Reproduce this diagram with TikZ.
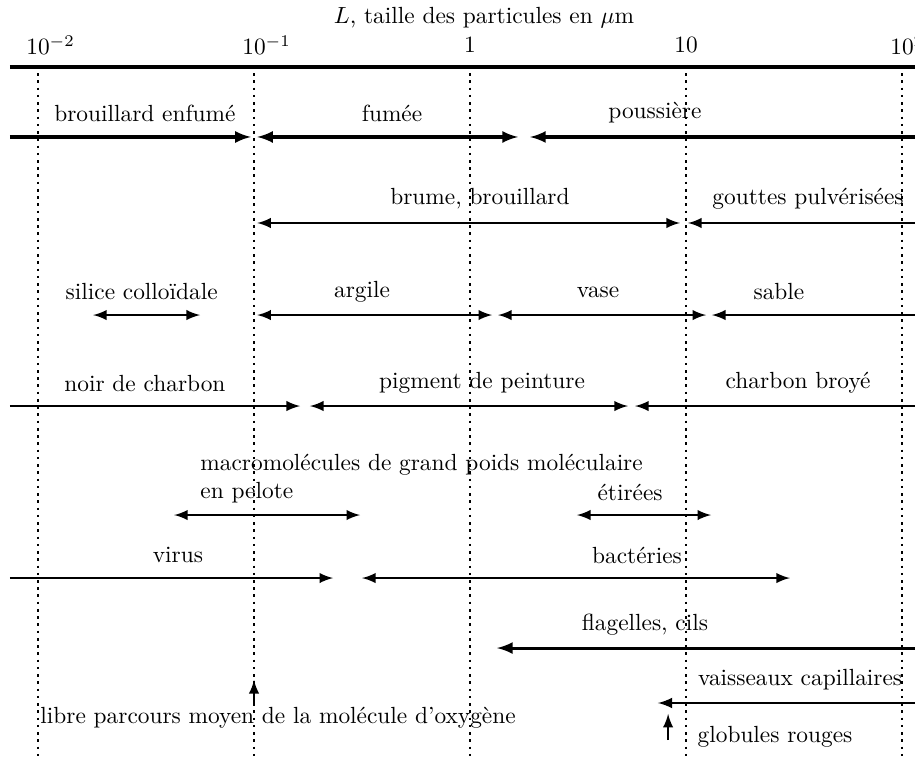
\documentclass[tikz,border=0pt]{standalone}
\usepackage{fontspec}
\usepackage{amsmath}

\begin{document}
\begin{tikzpicture}[x=3.25cm,y=1cm,
		axe/.style={line width=1.5pt},
		repere/.style={dotted,line width=1.1pt},
		fleche/.style={line width=1pt},
		lab/.style={inner sep=0pt}]
	\useasboundingbox (-2.176,0) rectangle (2.06,-11.405);
	\clip (-2.176,0) rectangle (2.06,-11.405);
	\node (titre) at (0.065,-0.27) {$L$, taille des particules en $\mu$m};
	\coordinate (ax-a) at (-2.13,-1.008);
	\coordinate (ax-b) at (2.3,-1.008);
	\draw[axe] (ax-a) -- (ax-b);
	\foreach \X/\T in {-2/10\rlap{$^{-2}$},-1/10\rlap{$^{-1}$},0/1,1/10,2/10\rlap{$^{2}$}}
	{\node (d\X) at (\X,-0.677) {$\T$};
		\coordinate (h\X) at (\X,-1.1);
		\coordinate (b\X) at (\X,-11.405);
		\draw[repere] (h\X) -- (b\X);}
	\foreach \n/\xa/\xb/\y/\tip/\w in {
		bro/-2.13/-1.015/-2.061/-latex/1.3pt,
		fum/-0.985/0.222/-2.061/latex-latex/1.3pt,
		pou/0.278/2.3/-2.061/latex-/1.3pt,
		bru/-0.985/0.972/-3.355/latex-latex/1pt,
		gou/1.009/2.3/-3.355/latex-/1pt,
		sil/-1.745/-1.25/-4.74/latex-latex/1pt,
		arg/-0.985/0.102/-4.74/latex-latex/1pt,
		vas/0.13/1.093/-4.74/latex-latex/1pt,
		sab/1.12/2.3/-4.74/latex-/1pt,
		noi/-2.13/-0.787/-6.109/-latex/1pt,
		pig/-0.741/0.731/-6.109/latex-latex/1pt,
		cha/0.764/2.3/-6.109/latex-/1pt,
		pel/-1.37/-0.509/-7.749/latex-latex/1pt,
		eti/0.495/1.116/-7.749/latex-latex/1pt,
		vir/-2.13/-0.634/-8.697/-latex/1pt,
		bac/-0.5/1.481/-8.697/latex-latex/1pt,
		fla/0.125/2.3/-9.75/latex-/1.3pt,
		vai/0.87/2.3/-10.577/latex-/1.1pt}
	{\coordinate (\n-a) at (\xa,\y);
		\coordinate (\n-b) at (\xb,\y);
		\draw[fleche,line width=\w,\tip] (\n-a) -- (\n-b);}
	\foreach \n/\x/\y/\txt in {
		lbro/-1.505/-1.70/brouillard enfumé,
		lfum/-0.361/-1.70/fumée,
		lpou/0.856/-1.70/poussière,
		lbru/0.046/-2.994/{brume, brouillard},
		lgou/1.565/-2.994/gouttes pulvérisées,
		lsil/-1.52/-4.393/silice colloïdale,
		larg/-0.5/-4.393/argile,
		lvas/0.593/-4.393/vase,
		lsab/1.43/-4.393/sable,
		lnoi/-1.505/-5.763/noir de charbon,
		lpig/0.056/-5.763/pigment de peinture,
		lcha/1.519/-5.763/charbon broyé,
		leti/0.741/-7.403/étirées,
		lvir/-1.352/-8.351/virus,
		lbac/0.773/-8.351/bactéries,
		lfla/0.81/-9.404/{flagelles, cils},
		lvai/1.528/-10.231/vaisseaux capillaires,
		lglo/1.412/-11.089/globules rouges}
	\node (\n) at (\x,\y) {\txt};
	\node[lab,anchor=west,align=left] (lmac) at (-1.25,-7.2)
		{macromolécules de grand poids moléculaire\\en pelote};
	\node[lab,anchor=west] (llib) at (-1.991,-10.80)
		{libre parcours moyen de la molécule d’oxygène};
	\coordinate (lib-a) at (-1,-10.608);
	\coordinate (lib-b) at (-1,-10.231);
	\draw[fleche,-latex] (lib-a) -- (lib-b);
	\coordinate (glo-a) at (0.917,-11.134);
	\coordinate (glo-b) at (0.917,-10.74);
	\draw[fleche,-latex] (glo-a) -- (glo-b);
\end{tikzpicture}
\end{document}
